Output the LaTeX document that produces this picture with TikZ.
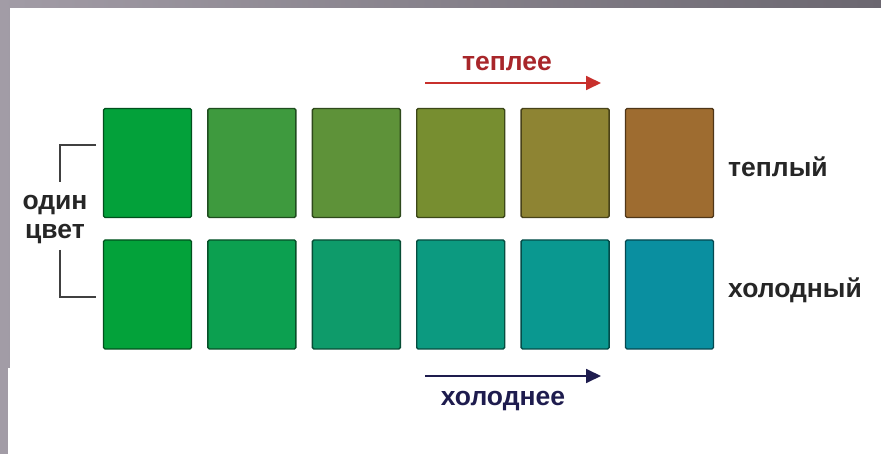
\documentclass[tikz,border=0pt]{standalone}
\usepackage{fontspec}
\setmainfont{Liberation Sans}
\usepackage{tikz}
\usetikzlibrary{arrows.meta}

\definecolor{frameL}{HTML}{A29CA6}
\definecolor{frameR}{HTML}{6B6770}
\definecolor{warmA}{HTML}{03A13A}
\definecolor{warmB}{HTML}{3E9A3E}
\definecolor{warmC}{HTML}{5E9239}
\definecolor{warmD}{HTML}{778E30}
\definecolor{warmE}{HTML}{8E8433}
\definecolor{warmF}{HTML}{9E6C30}
\definecolor{coldA}{HTML}{03A23A}
\definecolor{coldB}{HTML}{0CA050}
\definecolor{coldC}{HTML}{0E9B6A}
\definecolor{coldD}{HTML}{0C9A80}
\definecolor{coldE}{HTML}{0A9890}
\definecolor{coldF}{HTML}{0A8FA0}
\definecolor{warmtxt}{HTML}{A8262A}
\definecolor{warmarr}{HTML}{C8302C}
\definecolor{coldtxt}{HTML}{1E1C4E}

\begin{document}
\begin{tikzpicture}[x=1pt,y=-1pt,
				sq/.style={draw=#1!50!black,fill=#1,line width=1.4pt,rounded corners=1.5pt,
					minimum width=88pt,minimum height=109pt,inner sep=0pt},
				lbl/.style={font=\fontsize{26.5}{30}\selectfont\bfseries,text=black!85,inner sep=0pt},
				brk/.style={draw=black!75,line width=1.4pt},
				hot/.style={draw=warmarr,line width=1.8pt,-{Triangle[length=15pt,width=14pt]}},
				cold/.style={draw=coldtxt,line width=1.8pt,-{Triangle[length=15pt,width=14pt]}}]

				\useasboundingbox (0,0) rectangle (881,454);
				%%%%%%%%%%%%%%%%  frame  %%%%%%%%%%%%%%%%
				\shade[left color=frameL,right color=frameR] (0,0) rectangle (881,454);
				\fill[white] (10,8) rectangle (881,368);
				\fill[white] (8,368) rectangle (881,454);

				%%%%%%%%%%%%%%%%  swatches  %%%%%%%%%%%%%%%%
				\foreach \i/\w/\c in {0/warmA/coldA,1/warmB/coldB,2/warmC/coldC,
					3/warmD/coldD,4/warmE/coldE,5/warmF/coldF} {
					\node[sq=\w] (w\i) at (147.5+104.4*\i,163) {};
					\node[sq=\c] (c\i) at (147.5+104.4*\i,294.5) {};
				}

				%%%%%%%%%%%%%%%%  labels  %%%%%%%%%%%%%%%%
				\node[lbl,anchor=base west] (warm) at (728,177) {теплый};
				\node[lbl,anchor=base west] (cool) at (728,298) {холодный};
				\node[lbl,anchor=base] (same1) at (55,210) {один};
				\node[lbl,anchor=base] (same2) at (55,239) {цвет};
				% bracket round the first column
				\coordinate (bt) at (96,145);
				\coordinate (bb) at (96,297);
				\draw[brk] (bt) -- (60,145) -- (60,182);
				\draw[brk] (60,250) -- (60,297) -- (bb);

				%%%%%%%%%%%%%%%%  arrows  %%%%%%%%%%%%%%%%
				\coordinate (hs) at (425,83);  \coordinate (he) at (601,83);
				\coordinate (cs) at (425,376); \coordinate (ce) at (601,376);
				\draw[hot] (hs) -- (he);
				\draw[cold] (cs) -- (ce);
				\node[lbl,anchor=base,text=warmtxt] (hotter) at (507,71) {теплее};
				\node[lbl,anchor=base,text=coldtxt] (colder) at (503,405) {холоднее};
			\end{tikzpicture}
\end{document}
